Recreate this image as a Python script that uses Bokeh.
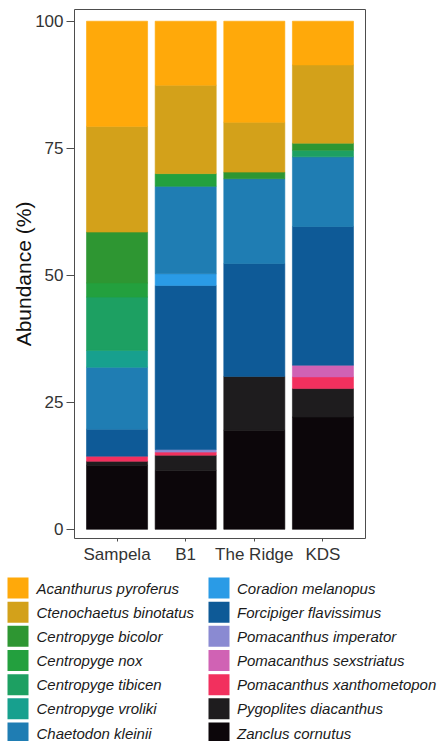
from bokeh.plotting import figure
from bokeh.layouts import column
from bokeh.models import (ColumnDataSource, FactorRange, Range1d, FixedTicker)
from bokeh.core.properties import value
from bokeh.embed import file_html
from bokeh.resources import INLINE

# ---------------- data ----------------
sites = ["Sampela", "B1", "The Ridge", "KDS"]

species = [
    "Acanthurus pyroferus", "Ctenochaetus binotatus", "Centropyge bicolor",
    "Centropyge nox", "Centropyge tibicen", "Centropyge vroliki",
    "Chaetodon kleinii", "Coradion melanopus", "Forcipiger flavissimus",
    "Pomacanthus imperator", "Pomacanthus sexstriatus",
    "Pomacanthus xanthometopon", "Pygoplites diacanthus", "Zanclus cornutus",
]

# abundance (%) per site: Sampela, B1, The Ridge, KDS
acanthurus_pyroferus = [20.7, 12.6, 19.9, 8.6]
ctenochaetus_binotatus = [20.8, 17.4, 9.8, 15.4]
centropyge_bicolor = [10.0, 0.0, 1.3, 1.4]
centropyge_nox = [2.8, 2.5, 0.0, 0.0]
centropyge_tibicen = [10.5, 0.0, 0.0, 1.3]
centropyge_vroliki = [3.3, 0.0, 0.0, 0.0]
chaetodon_kleinii = [12.2, 17.2, 16.7, 13.7]
coradion_melanopus = [0.0, 2.3, 0.0, 0.0]
forcipiger_flavissimus = [5.3, 32.3, 22.2, 27.3]
pomacanthus_imperator = [0.0, 0.5, 0.0, 0.0]
pomacanthus_sexstriatus = [0.0, 0.0, 0.0, 2.3]
pomacanthus_xanthometopon = [1.0, 0.6, 0.0, 2.3]
pygoplites_diacanthus = [0.8, 3.0, 10.6, 5.6]
zanclus_cornutus = [12.6, 11.6, 19.5, 22.1]

colors = [
    "#FFA90A", "#D3A11A", "#2E9632", "#23A03E", "#1DA062", "#17A08E",
    "#1F7DB3", "#2A9BE6", "#0E5A97", "#8A8AD2", "#D062B4", "#F2305E",
    "#1E1C1E", "#0C060A",
]

y_ticks = [0, 25, 50, 75, 100]

values = [
    acanthurus_pyroferus, ctenochaetus_binotatus, centropyge_bicolor,
    centropyge_nox, centropyge_tibicen, centropyge_vroliki, chaetodon_kleinii,
    coradion_melanopus, forcipiger_flavissimus, pomacanthus_imperator,
    pomacanthus_sexstriatus, pomacanthus_xanthometopon, pygoplites_diacanthus,
    zanclus_cornutus,
]

data = {"site": sites}
for name, vals in zip(species, values):
    data[name] = vals
    data[name + "__la"] = [1.0 if v > 0 else 0.0 for v in vals]
source = ColumnDataSource(data)

FONT = "Liberation Sans"
W = 439

# ---------------- main chart ----------------
p = figure(
    x_range=FactorRange(factors=sites, range_padding=0.12,
                        range_padding_units="absolute"),
    y_range=Range1d(-1.8, 102.3),
    width=W, height=570,
    output_backend="svg", toolbar_location=None,
    min_border_left=74, min_border_right=74,
    min_border_top=9, min_border_bottom=32,
)
p.frame_align = False

stack_order = species[::-1]
stack_colors = colors[::-1]
p.vbar_stack(stack_order, x="site", width=0.89, source=source,
             fill_color=stack_colors, line_color=stack_colors,
             line_width=0.6, line_alpha=[n + "__la" for n in stack_order])

p.xgrid.visible = False
p.ygrid.visible = False
p.outline_line_color = "#4d4d4d"
p.outline_line_width = 1

p.yaxis.ticker = FixedTicker(ticks=y_ticks)
p.yaxis.axis_line_color = None
p.yaxis.major_tick_out = 8
p.yaxis.major_tick_in = 0
p.yaxis.minor_tick_line_color = None
p.yaxis.major_tick_line_color = "#4d4d4d"
p.yaxis.major_label_standoff = 3
p.yaxis.major_label_text_font = FONT
p.yaxis.major_label_text_font_size = "17px"
p.yaxis.major_label_text_color = "#333333"
p.yaxis.axis_label = "Abundance (%)"
p.yaxis.axis_label_text_font = FONT
p.yaxis.axis_label_text_font_style = "normal"
p.yaxis.axis_label_text_font_size = "21px"
p.yaxis.axis_label_text_color = "#111111"
p.yaxis.axis_label_standoff = -3

p.xaxis.axis_line_color = None
p.xaxis.major_tick_out = 3
p.xaxis.major_tick_in = 0
p.xaxis.major_tick_line_color = "#4d4d4d"
p.xaxis.major_label_standoff = 3
p.xaxis.major_label_text_font = FONT
p.xaxis.major_label_text_font_size = "17px"
p.xaxis.major_label_text_color = "#333333"

# ---------------- legend (two columns of seven) ----------------
LH = 171
n_rows = 7
row_pitch = 24.17
first_center = 17.5
key_size = 21
col_key_left = [7, 208]
col_text_left = [36, 236.5]

idx = list(range(len(species)))
cols = [i // n_rows for i in idx]
rows = [i % n_rows for i in idx]
centers = [first_center + r * row_pitch for r in rows]
leg_src = ColumnDataSource(dict(
    name=species,
    color=colors,
    left=[col_key_left[c] for c in cols],
    right=[col_key_left[c] + key_size for c in cols],
    top=[y - key_size / 2 for y in centers],
    bottom=[y + key_size / 2 for y in centers],
    tx=[col_text_left[c] for c in cols],
    ty=centers,
))

pl = figure(width=W, height=LH, x_range=Range1d(0, W), y_range=Range1d(LH, 0),
            output_backend="svg", toolbar_location=None,
            min_border=0, min_border_left=0, min_border_right=0,
            min_border_top=0, min_border_bottom=0)
pl.frame_align = False
pl.axis.visible = False
pl.grid.visible = False
pl.outline_line_color = None
pl.quad(left="left", right="right", top="top", bottom="bottom",
        fill_color="color", line_color=None, source=leg_src)
pl.text(x="tx", y="ty", text="name", source=leg_src,
        text_font=value(FONT), text_font_style="italic",
        text_font_size="15px", text_color="#1a1a1a",
        text_baseline="middle", text_align="left")

layout = column(p, pl, spacing=0)
open("out.html", "w").write(file_html(layout, INLINE))
